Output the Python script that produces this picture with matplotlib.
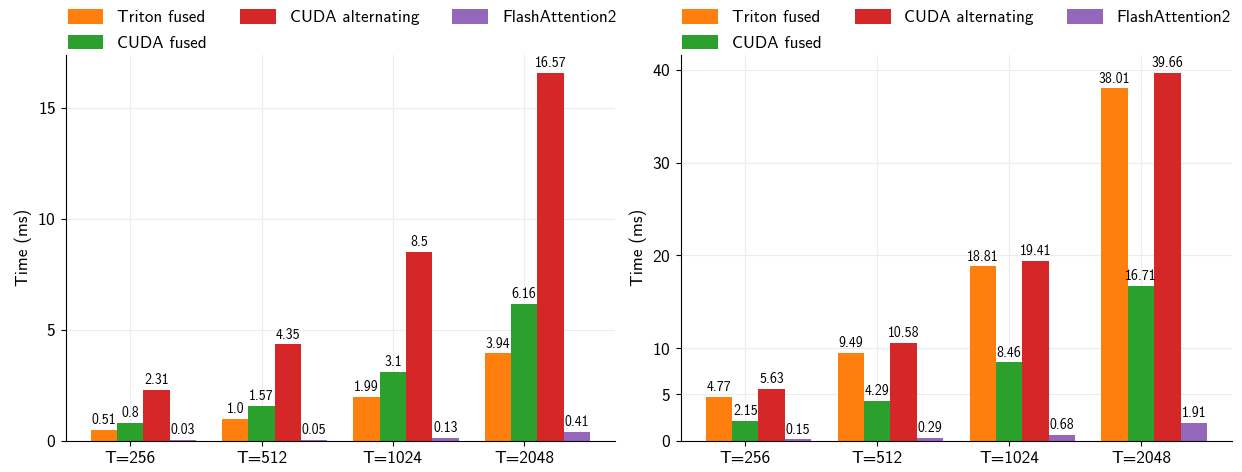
import numpy as np
import matplotlib
matplotlib.use("Agg")
import matplotlib.pyplot as plt

plt.rcParams["font.family"] = ["cmss10", "DejaVu Sans"]
plt.rcParams["axes.formatter.use_mathtext"] = True

categories = ["T=256", "T=512", "T=1024", "T=2048"]
methods = ["Triton fused", "CUDA fused", "CUDA alternating", "FlashAttention2"]
colors = ["tab:orange", "tab:green", "tab:red", "tab:purple"]

# left panel
left_triton = [0.51, 1.0, 1.99, 3.94]
left_cuda_fused = [0.8, 1.57, 3.1, 6.16]
left_cuda_alt = [2.31, 4.35, 8.5, 16.57]
left_flash = [0.03, 0.05, 0.13, 0.41]
left_yticks = [0, 5, 10, 15]

# right panel
right_triton = [4.77, 9.49, 18.81, 38.01]
right_cuda_fused = [2.15, 4.29, 8.46, 16.71]
right_cuda_alt = [5.63, 10.58, 19.41, 39.66]
right_flash = [0.15, 0.29, 0.68, 1.91]
right_yticks = [0, 5, 10, 20, 30, 40]


def draw_panel(ax, series, yticks):
    x = np.arange(len(categories))
    w = 0.2
    for i, (vals, name, c) in enumerate(zip(series, methods, colors)):
        bars = ax.bar(x + (i - 1) * w, vals, w, label=name, color=c)
        ax.bar_label(bars, labels=[str(v) for v in vals], padding=2, fontsize=10)
    ax.set_xticks(x)
    ax.set_xticklabels(categories, fontsize=12.5)
    ax.set_yticks(yticks)
    ax.tick_params(axis="y", labelsize=12.5)
    ax.set_ylabel("Time (ms)", fontsize=12.5)
    ax.grid(True, color="#ececec", linewidth=0.8)
    ax.set_axisbelow(True)
    ax.spines["top"].set_visible(False)
    ax.spines["right"].set_visible(False)
    ax.legend(loc="lower left", bbox_to_anchor=(0.0, 1.006), ncol=3, frameon=False,
              fontsize=12.3, borderaxespad=0.0, borderpad=0.1, columnspacing=1.95,
              handlelength=2.1, handleheight=0.9, labelspacing=0.55)


fig = plt.figure(figsize=(12.42, 4.72), dpi=100)
ax1 = fig.add_axes([0.053, 0.066, 0.442, 0.818])
ax2 = fig.add_axes([0.548, 0.066, 0.444, 0.818])

draw_panel(ax1, [left_triton, left_cuda_fused, left_cuda_alt, left_flash], left_yticks)
draw_panel(ax2, [right_triton, right_cuda_fused, right_cuda_alt, right_flash], right_yticks)

fig.savefig("out.png", dpi=100)
